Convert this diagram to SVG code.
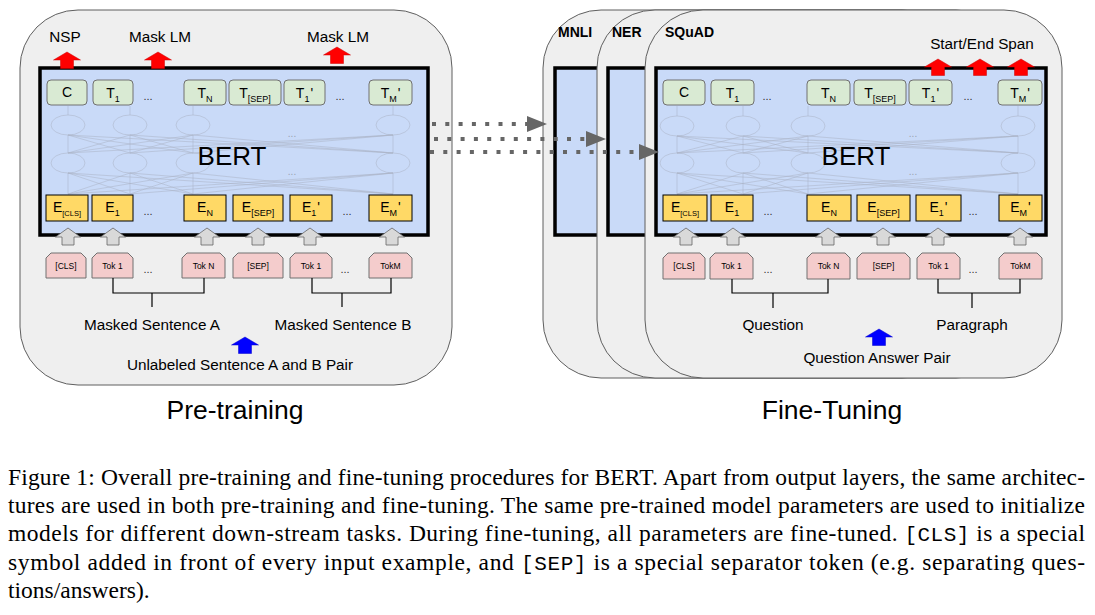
<svg xmlns="http://www.w3.org/2000/svg" xmlns:xlink="http://www.w3.org/1999/xlink" width="1095" height="615" viewBox="0 0 1095 615">
<style>
.panel{fill:#efefef;stroke:#5f5f5f;stroke-width:1}
.bert{fill:#c9daf8;stroke:#000;stroke-width:3.5}
.tbox{fill:#d9ead3;stroke:#707070;stroke-width:1}
.ebox{fill:#ffd966;stroke:#000;stroke-width:1}
.tok{fill:#f4cccc;stroke:#707070;stroke-width:1}
.net{fill:none;stroke:#a9b2c3;stroke-opacity:.5;stroke-width:1}
.sans{font-family:"Liberation Sans",Arial,sans-serif;fill:#000}
.lbl{font-size:15.3px;text-anchor:middle}
.task{font-size:14px;font-weight:bold}
.big{font-size:26px;text-anchor:middle}
.bt{font-size:14px;text-anchor:middle}
.sub{font-size:9px}
.esub{font-size:7.5px}
.tk{font-size:8.5px;text-anchor:middle}
.dots{font-size:11px;text-anchor:middle;fill:#333}
.ndots{font-size:10px;text-anchor:middle;fill:#9aa3b3}
.title{font-size:26.5px;text-anchor:middle}
.cap{font-family:"Liberation Serif","Times New Roman",serif;font-size:23.5px;fill:#000}
.mono{font-family:"Liberation Mono","Courier New",monospace;font-size:21px}
.dot{fill:none;stroke:#666;stroke-width:4;stroke-dasharray:4 9.3}
.brk{fill:none;stroke:#000;stroke-width:1.2}
</style>
<defs>
<path id="arr" d="M0 0L13.5 8L6.5 8L6.5 16.5L-6.5 16.5L-6.5 8L-13.5 8Z"/>
<path id="garr" d="M0 0L12.5 9L6 9L6 17L-6 17L-6 9L-12.5 9Z"/>
<marker id="ah" markerWidth="20" markerHeight="16" refX="0" refY="8" orient="auto" markerUnits="userSpaceOnUse"><path d="M0 0L20 8L0 16Z" fill="#666"/></marker>
</defs>

<!-- ===== Pre-training ===== -->
<g id="pretrain">
<rect class="panel" x="20" y="10" width="432" height="375" rx="58"/>
<rect class="bert" x="40" y="68" width="388" height="167"/>
<g id="pt-net">
<ellipse class="net" cx="68" cy="125" rx="17" ry="10"/><ellipse class="net" cx="130" cy="125" rx="17" ry="10"/><ellipse class="net" cx="193" cy="125" rx="17" ry="10"/><ellipse class="net" cx="393" cy="125" rx="17" ry="10"/>
<ellipse class="net" cx="68" cy="163" rx="17" ry="10"/><ellipse class="net" cx="130" cy="163" rx="17" ry="10"/><ellipse class="net" cx="193" cy="163" rx="17" ry="10"/><ellipse class="net" cx="393" cy="163" rx="17" ry="10"/>
<path class="net" d="M68 115V106M130 115V106M193 115V106M393 115V106"/>
<path class="net" d="M68 153L68 135M68 153L130 135M68 153L193 135M68 153L393 135M130 153L68 135M130 153L130 135M130 153L193 135M130 153L393 135M193 153L68 135M193 153L130 135M193 153L193 135M193 153L393 135M393 153L68 135M393 153L130 135M393 153L193 135M393 153L393 135"/>
<path class="net" d="M68 194L68 173M68 194L130 173M68 194L193 173M68 194L393 173M130 194L68 173M130 194L130 173M130 194L193 173M130 194L393 173M193 194L68 173M193 194L130 173M193 194L193 173M193 194L393 173M393 194L68 173M393 194L130 173M393 194L193 173M393 194L393 173"/>
<text class="sans ndots" x="292" y="137">...</text><text class="sans ndots" x="292" y="175">...</text>
</g>
<text class="sans big" x="232" y="165">BERT</text>
<text class="sans lbl" x="65" y="42">NSP</text>
<text class="sans lbl" x="160" y="42">Mask LM</text>
<text class="sans lbl" x="338" y="42">Mask LM</text>
<use href="#arr" transform="translate(67,52)" fill="#f00" stroke="#c00" stroke-width="0.5"/>
<use href="#arr" transform="translate(158,52)" fill="#f00" stroke="#c00" stroke-width="0.5"/>
<use href="#arr" transform="translate(337,47)" fill="#f00" stroke="#c00" stroke-width="0.5"/>
<text class="sans title" x="235" y="419">Pre-training</text>
<text class="sans lbl" x="152" y="330">Masked Sentence A</text>
<text class="sans lbl" x="343" y="330">Masked Sentence B</text>
<use href="#arr" transform="translate(245,337)" fill="#00f" stroke="#00c" stroke-width="0.5"/>
<text class="sans lbl" x="240" y="370">Unlabeled Sentence A and B Pair</text>
</g>

<g id="pt-out">
<g id="pt-C"><rect class="tbox" x="47" y="80" width="40" height="25" rx="4"/><text class="sans bt" x="67" y="97">C</text></g>
<g id="pt-T1"><rect class="tbox" x="93" y="80" width="40" height="25" rx="4"/><text class="sans bt" x="113" y="98">T<tspan class="sub" dy="4">1</tspan></text></g>
<text class="sans dots" x="148" y="100">...</text>
<g id="pt-TN"><rect class="tbox" x="184" y="80" width="42" height="25" rx="4"/><text class="sans bt" x="205" y="98">T<tspan class="sub" dy="4">N</tspan></text></g>
<g id="pt-TSEP"><rect class="tbox" x="229" y="80" width="52" height="25" rx="4"/><text class="sans bt" x="255" y="98">T<tspan class="sub" dy="4">[SEP]</tspan></text></g>
<g id="pt-T1p"><rect class="tbox" x="284" y="80" width="41" height="25" rx="4"/><text class="sans bt" x="304.5" y="98">T<tspan class="sub" dy="4">1</tspan><tspan dx="1" dy="-4">'</tspan></text></g>
<text class="sans dots" x="340" y="100">...</text>
<g id="pt-TMp"><rect class="tbox" x="369" y="80" width="43" height="25" rx="4"/><text class="sans bt" x="390.5" y="98">T<tspan class="sub" dy="4">M</tspan><tspan dx="1" dy="-4">'</tspan></text></g>
</g>

<g id="pt-emb">
<g id="pt-ECLS"><rect class="ebox" x="46" y="195" width="42" height="26"/><text class="sans bt" x="67" y="212">E<tspan class="esub" dy="4">[CLS]</tspan></text></g>
<g id="pt-E1"><rect class="ebox" x="92" y="195" width="41" height="26"/><text class="sans bt" x="112.5" y="212">E<tspan class="sub" dy="4">1</tspan></text></g>
<text class="sans dots" x="148" y="215">...</text>
<g id="pt-EN"><rect class="ebox" x="184" y="195" width="42" height="26"/><text class="sans bt" x="205" y="212">E<tspan class="sub" dy="4">N</tspan></text></g>
<g id="pt-ESEP"><rect class="ebox" x="233" y="195" width="50" height="26"/><text class="sans bt" x="258" y="212">E<tspan class="sub" dy="4">[SEP]</tspan></text></g>
<g id="pt-E1p"><rect class="ebox" x="290" y="195" width="42" height="26"/><text class="sans bt" x="311" y="212">E<tspan class="sub" dy="4">1</tspan><tspan dx="1" dy="-4">'</tspan></text></g>
<text class="sans dots" x="347" y="215">...</text>
<g id="pt-EMp"><rect class="ebox" x="369" y="195" width="43" height="26"/><text class="sans bt" x="390.5" y="212">E<tspan class="sub" dy="4">M</tspan><tspan dx="1" dy="-4">'</tspan></text></g>
</g>

<g id="pt-tok">
<g id="pt-kCLS"><path class="tok" d="M46 278V258L51 253H81L86 258V278Z"/><text class="sans tk" x="66" y="269">[CLS]</text></g>
<g id="pt-k1"><path class="tok" d="M92 278V258L97 253H128L133 258V278Z"/><text class="sans tk" x="112.5" y="269">Tok 1</text></g>
<text class="sans dots" x="148" y="273">...</text>
<g id="pt-kN"><path class="tok" d="M182 278V258L187 253H220L225 258V278Z"/><text class="sans tk" x="203.5" y="269">Tok N</text></g>
<g id="pt-kSEP"><path class="tok" d="M233 278V258L238 253H278L283 258V278Z"/><text class="sans tk" x="258" y="269">[SEP]</text></g>
<g id="pt-k1b"><path class="tok" d="M290 278V258L295 253H327L332 258V278Z"/><text class="sans tk" x="311" y="269">Tok 1</text></g>
<text class="sans dots" x="345" y="273">...</text>
<g id="pt-kM"><path class="tok" d="M369 278V258L374 253H407L412 258V278Z"/><text class="sans tk" x="390.5" y="269">TokM</text></g>
</g>

<!-- ===== Fine-tuning ===== -->
<g id="ft-mnli">
<rect class="panel" x="543" y="10" width="417" height="368" rx="58"/>
<rect class="bert" x="555" y="68" width="390" height="167"/>
<text class="sans task" x="558" y="37">MNLI</text>
</g>
<g id="ft-ner">
<rect class="panel" x="597" y="10" width="417" height="368" rx="58"/>
<rect class="bert" x="608" y="68" width="390" height="167"/>
<text class="sans task" x="612" y="37">NER</text>
</g>
<g id="ft-squad">
<rect class="panel" x="645" y="10" width="417" height="368" rx="58"/>
<rect class="bert" x="656" y="68" width="390" height="167"/>
<text class="sans task" x="665" y="37">SQuAD</text>
<g id="ft-net">
<ellipse class="net" cx="677" cy="126" rx="17" ry="10"/><ellipse class="net" cx="743" cy="126" rx="17" ry="10"/><ellipse class="net" cx="808" cy="126" rx="17" ry="10"/><ellipse class="net" cx="1018" cy="126" rx="17" ry="10"/>
<ellipse class="net" cx="677" cy="163" rx="17" ry="10"/><ellipse class="net" cx="743" cy="163" rx="17" ry="10"/><ellipse class="net" cx="808" cy="163" rx="17" ry="10"/><ellipse class="net" cx="1018" cy="163" rx="17" ry="10"/>
<path class="net" d="M677 116V106M743 116V106M808 116V106M1018 116V106"/>
<path class="net" d="M677 153L677 136M677 153L743 136M677 153L808 136M677 153L1018 136M743 153L677 136M743 153L743 136M743 153L808 136M743 153L1018 136M808 153L677 136M808 153L743 136M808 153L808 136M808 153L1018 136M1018 153L677 136M1018 153L743 136M1018 153L808 136M1018 153L1018 136"/>
<path class="net" d="M677 194L677 173M677 194L743 173M677 194L808 173M677 194L1018 173M743 194L677 173M743 194L743 173M743 194L808 173M743 194L1018 173M808 194L677 173M808 194L743 173M808 194L808 173M808 194L1018 173M1018 194L677 173M1018 194L743 173M1018 194L808 173M1018 194L1018 173"/>
<text class="sans ndots" x="913" y="137">...</text><text class="sans ndots" x="913" y="175">...</text>
</g>
<text class="sans big" x="856" y="165">BERT</text>
<text class="sans lbl" x="982" y="49">Start/End Span</text>
<use href="#arr" transform="translate(938,59)" fill="#f00" stroke="#c00" stroke-width="0.5"/>
<use href="#arr" transform="translate(980,59)" fill="#f00" stroke="#c00" stroke-width="0.5"/>
<use href="#arr" transform="translate(1021,59)" fill="#f00" stroke="#c00" stroke-width="0.5"/>
<text class="sans lbl" x="773" y="330">Question</text>
<text class="sans lbl" x="972" y="330">Paragraph</text>
<use href="#arr" transform="translate(879,329)" fill="#00f" stroke="#00c" stroke-width="0.5"/>
<text class="sans lbl" x="877" y="363">Question Answer Pair</text>
<text class="sans title" x="832" y="419">Fine-Tuning</text>
</g>

<g id="ft-out">
<g id="ft-C"><rect class="tbox" x="663" y="80" width="42" height="25" rx="4"/><text class="sans bt" x="684" y="97">C</text></g>
<g id="ft-T1"><rect class="tbox" x="711" y="80" width="43" height="25" rx="4"/><text class="sans bt" x="732.5" y="98">T<tspan class="sub" dy="4">1</tspan></text></g>
<text class="sans dots" x="767" y="100">...</text>
<g id="ft-TN"><rect class="tbox" x="807" y="80" width="43" height="25" rx="4"/><text class="sans bt" x="828.5" y="98">T<tspan class="sub" dy="4">N</tspan></text></g>
<g id="ft-TSEP"><rect class="tbox" x="854" y="80" width="52" height="25" rx="4"/><text class="sans bt" x="880" y="98">T<tspan class="sub" dy="4">[SEP]</tspan></text></g>
<g id="ft-T1p"><rect class="tbox" x="909" y="80" width="43" height="25" rx="4"/><text class="sans bt" x="930.5" y="98">T<tspan class="sub" dy="4">1</tspan><tspan dx="1" dy="-4">'</tspan></text></g>
<text class="sans dots" x="968" y="100">...</text>
<g id="ft-TMp"><rect class="tbox" x="998" y="80" width="44" height="25" rx="4"/><text class="sans bt" x="1020" y="98">T<tspan class="sub" dy="4">M</tspan><tspan dx="1" dy="-4">'</tspan></text></g>
</g>

<g id="ft-emb">
<g id="ft-ECLS"><rect class="ebox" x="663" y="195" width="44" height="26"/><text class="sans bt" x="685" y="212">E<tspan class="esub" dy="4">[CLS]</tspan></text></g>
<g id="ft-E1"><rect class="ebox" x="711" y="195" width="42" height="26"/><text class="sans bt" x="732" y="212">E<tspan class="sub" dy="4">1</tspan></text></g>
<text class="sans dots" x="768" y="215">...</text>
<g id="ft-EN"><rect class="ebox" x="807" y="195" width="44" height="26"/><text class="sans bt" x="829" y="212">E<tspan class="sub" dy="4">N</tspan></text></g>
<g id="ft-ESEP"><rect class="ebox" x="857" y="195" width="53" height="26"/><text class="sans bt" x="883.5" y="212">E<tspan class="sub" dy="4">[SEP]</tspan></text></g>
<g id="ft-E1p"><rect class="ebox" x="916" y="195" width="45" height="26"/><text class="sans bt" x="938.5" y="212">E<tspan class="sub" dy="4">1</tspan><tspan dx="1" dy="-4">'</tspan></text></g>
<text class="sans dots" x="973" y="215">...</text>
<g id="ft-EMp"><rect class="ebox" x="999" y="195" width="43" height="26"/><text class="sans bt" x="1020.5" y="212">E<tspan class="sub" dy="4">M</tspan><tspan dx="1" dy="-4">'</tspan></text></g>
</g>

<g id="ft-tok">
<g id="ft-kCLS"><path class="tok" d="M663 279V258L668 253H700L705 258V279Z"/><text class="sans tk" x="684" y="269">[CLS]</text></g>
<g id="ft-k1"><path class="tok" d="M710 279V258L715 253H748L753 258V279Z"/><text class="sans tk" x="731.5" y="269">Tok 1</text></g>
<text class="sans dots" x="768" y="273">...</text>
<g id="ft-kN"><path class="tok" d="M807 279V258L812 253H845L850 258V279Z"/><text class="sans tk" x="828.5" y="269">Tok N</text></g>
<g id="ft-kSEP"><path class="tok" d="M857 279V258L862 253H905L910 258V279Z"/><text class="sans tk" x="883.5" y="269">[SEP]</text></g>
<g id="ft-k1b"><path class="tok" d="M917 279V258L922 253H955L960 258V279Z"/><text class="sans tk" x="938.5" y="269">Tok 1</text></g>
<text class="sans dots" x="973" y="273">...</text>
<g id="ft-kM"><path class="tok" d="M999 279V258L1004 253H1037L1042 258V279Z"/><text class="sans tk" x="1020.5" y="269">TokM</text></g>
</g>

<!-- ===== Connectors ===== -->
<g id="connectors">
<g fill="#d9d9d9" stroke="#666" stroke-width="0.8">
<use href="#garr" transform="translate(68,228)"/><use href="#garr" transform="translate(113,228)"/><use href="#garr" transform="translate(207,228)"/><use href="#garr" transform="translate(258,228)"/><use href="#garr" transform="translate(310,228)"/><use href="#garr" transform="translate(392,228)"/>
<use href="#garr" transform="translate(686,228)"/><use href="#garr" transform="translate(733,228)"/><use href="#garr" transform="translate(828,228)"/><use href="#garr" transform="translate(883,228)"/><use href="#garr" transform="translate(938,228)"/><use href="#garr" transform="translate(1020,228)"/>
</g>
<path class="brk" d="M113 278V293H204V278M152 293V307"/>
<path class="brk" d="M312 278V293H391V278M342 293V307"/>
<path class="brk" d="M732 279V293H828V279M773 293V308"/>
<path class="brk" d="M938 279V293H1020V279M972 293V308"/>
<path class="dot" d="M432 124H527" marker-end="url(#ah)"/>
<path class="dot" d="M434 139H586" marker-end="url(#ah)"/>
<path class="dot" d="M430 152H639" marker-end="url(#ah)"/>
</g>

<!-- ===== Caption ===== -->
<g id="caption">
<text class="cap" x="8" y="485" textLength="1077" lengthAdjust="spacing">Figure 1: Overall pre-training and fine-tuning procedures for BERT. Apart from output layers, the same architec-</text>
<text class="cap" x="8" y="513" textLength="1077" lengthAdjust="spacing">tures are used in both pre-training and fine-tuning. The same pre-trained model parameters are used to initialize</text>
<text class="cap" x="8" y="541" textLength="1077" lengthAdjust="spacing">models for different down-stream tasks. During fine-tuning, all parameters are fine-tuned. <tspan class="mono">[CLS]</tspan> is a special</text>
<text class="cap" x="8" y="570" textLength="1077" lengthAdjust="spacing">symbol added in front of every input example, and <tspan class="mono">[SEP]</tspan> is a special separator token (e.g. separating ques-</text>
<text class="cap" x="8" y="598">tions/answers).</text>
</g>
</svg>
